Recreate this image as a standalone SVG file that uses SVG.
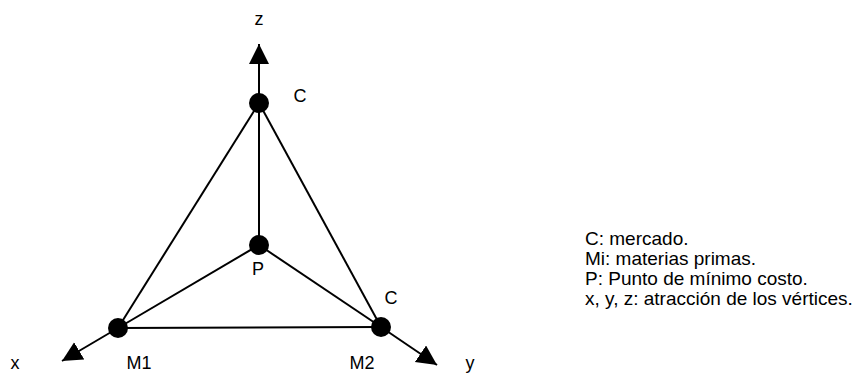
<svg xmlns="http://www.w3.org/2000/svg" width="857" height="378" viewBox="0 0 857 378">
<style>
.ln{stroke:#000;stroke-width:2;fill:none}
.nd{fill:#000}
.lb{font-family:"Liberation Sans",Arial,sans-serif;font-size:18px;fill:#000}
.lg{font-family:"Liberation Sans",Arial,sans-serif;font-size:19px;fill:#000}
</style>
<defs>
<marker id="ah" markerUnits="userSpaceOnUse" markerWidth="22" markerHeight="22" refX="20" refY="10" orient="auto">
<path d="M0,0 L20,10 L0,20 z" fill="#000"/>
</marker>
</defs>
<rect width="857" height="378" fill="#fff"/>
<g id="connectors">
<line class="ln" x1="259" y1="103" x2="259" y2="44" marker-end="url(#ah)"/>
<line class="ln" x1="118" y1="328" x2="62" y2="361" marker-end="url(#ah)"/>
<line class="ln" x1="381" y1="327" x2="437" y2="365" marker-end="url(#ah)"/>
<line class="ln" x1="259" y1="103" x2="118" y2="328"/>
<line class="ln" x1="259" y1="103" x2="381" y2="327"/>
<line class="ln" x1="118" y1="328" x2="381" y2="327"/>
<line class="ln" x1="259" y1="103" x2="259" y2="245"/>
<line class="ln" x1="259" y1="245" x2="118" y2="328"/>
<line class="ln" x1="259" y1="245" x2="381" y2="327"/>
</g>
<g id="nodeC"><circle class="nd" cx="259" cy="103" r="10"/><text class="lb" x="300" y="102" text-anchor="middle">C</text></g>
<g id="nodeP"><circle class="nd" cx="259" cy="245" r="10"/><text class="lb" x="258" y="275" text-anchor="middle">P</text></g>
<g id="nodeM1"><circle class="nd" cx="118" cy="328" r="10"/><text class="lb" x="139" y="369" text-anchor="middle">M1</text></g>
<g id="nodeM2"><circle class="nd" cx="381" cy="327" r="10"/><text class="lb" x="362" y="369" text-anchor="middle">M2</text><text class="lb" x="391" y="304" text-anchor="middle">C</text></g>
<g id="axisLabels">
<text class="lb" x="259" y="25" text-anchor="middle">z</text>
<text class="lb" x="15" y="369" text-anchor="middle">x</text>
<text class="lb" x="470" y="369" text-anchor="middle">y</text>
</g>
<g id="legend">
<text class="lg" x="585" y="245">C: mercado.</text>
<text class="lg" x="585" y="265">Mi: materias primas.</text>
<text class="lg" x="585" y="285">P: Punto de mínimo costo.</text>
<text class="lg" x="585" y="305">x, y, z: atracción de los vértices.</text>
</g>
</svg>
